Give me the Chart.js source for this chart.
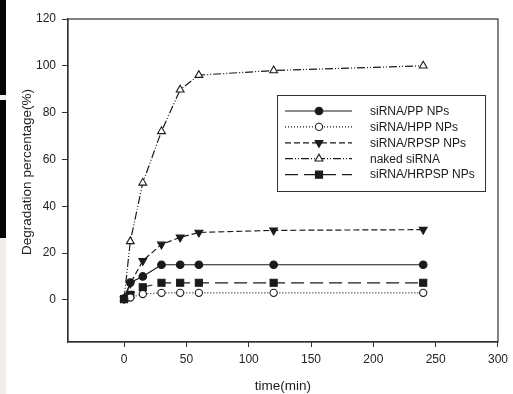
<!DOCTYPE html>
<html>
<head>
<meta charset="utf-8">
<script src="https://cdn.jsdelivr.net/npm/chart.js@4/dist/chart.umd.min.js"></script>
<style>
  html, body { margin: 0; padding: 0; background: #fff; }
  #wrap { position: relative; width: 513px; height: 394px; }
  .strip { position: absolute; left: 0; width: 6px; }
</style>
</head>
<body>
<div id="wrap">
  <canvas id="chart" width="513" height="394"></canvas>
  <div class="strip" style="top:0;height:394px;background:#f1eeeb"></div>
  <div class="strip" style="top:0;height:95px;background:#050505"></div>
  <div class="strip" style="top:100px;height:138px;background:#050505"></div>
</div>
<script>
const times = [0, 5, 15, 30, 45, 60, 120, 240];
const ppNPs = [0.5, 7.4, 10, 15, 15, 15, 15, 15];
const hppNPs = [0.3, 1, 2.5, 3, 3, 3, 3, 3];
const rpspNPs = [0.5, 7, 16.7, 23.7, 26.7, 28.8, 29.7, 30];
const nakedSiRNA = [0.5, 25, 50, 72, 89.8, 96, 98, 100];
const hrpspNPs = [0.3, 2.1, 5.4, 7.3, 7.3, 7.3, 7.3, 7.3];
const xTicks = [0, 50, 100, 150, 200, 250, 300];
const yTicks = [0, 20, 40, 60, 80, 100, 120];
const yTitle = 'Degradation percentage(%)';

const ink = '#1a1a1a';
const axisColor = '#333';
const font = 'Liberation Sans, Arial, sans-serif';

function pts(ys) {
  return times.map((t, i) => ({ x: t, y: ys[i] }));
}

function series(label, ys, style) {
  return Object.assign({
    label: label,
    data: pts(ys),
    borderColor: ink,
    borderWidth: 1.2,
    pointBorderColor: ink,
    pointBorderWidth: 1.1,
    fill: false,
    tension: 0
  }, style);
}

const datasets = [
  series('siRNA/PP NPs', ppNPs, { borderDash: [], pointStyle: 'circle', pointRadius: 3.8, pointBackgroundColor: ink }),
  series('siRNA/HPP NPs', hppNPs, { borderDash: [1, 2], pointStyle: 'circle', pointRadius: 3.6, pointBackgroundColor: '#fff' }),
  series('siRNA/RPSP NPs', rpspNPs, { borderDash: [6, 3], pointStyle: 'triangle', pointRotation: 180, pointRadius: 4.5, pointBackgroundColor: ink }),
  series('naked siRNA', nakedSiRNA, { borderDash: [8, 2, 1, 2, 1, 2], pointStyle: 'triangle', pointRadius: 4.5, pointBackgroundColor: '#fff' }),
  series('siRNA/HRPSP NPs', hrpspNPs, { borderDash: [13, 6], pointStyle: 'rect', pointRadius: 5, pointBackgroundColor: ink })
];

function drawMarker(ctx, ds, x, y) {
  const r = ds.pointRadius;
  ctx.save();
  ctx.setLineDash([]);
  ctx.lineWidth = ds.pointBorderWidth;
  ctx.strokeStyle = ds.pointBorderColor;
  ctx.fillStyle = ds.pointBackgroundColor;
  ctx.beginPath();
  if (ds.pointStyle === 'circle') {
    ctx.arc(x, y, r, 0, Math.PI * 2);
  } else if (ds.pointStyle === 'rect') {
    const s = r * Math.SQRT1_2;
    ctx.rect(x - s, y - s, 2 * s, 2 * s);
  } else {
    const dir = ds.pointRotation === 180 ? -1 : 1;
    const h = r * 0.866;
    ctx.moveTo(x, y - dir * r);
    ctx.lineTo(x + h, y + dir * r / 2);
    ctx.lineTo(x - h, y + dir * r / 2);
    ctx.closePath();
  }
  ctx.fill();
  ctx.stroke();
  ctx.restore();
}

// boxed legend with line + centered marker, the plot frame and the y title
const boxLegend = {
  id: 'boxLegend',
  afterDraw(chart) {
    const ctx = chart.ctx;
    const a = chart.chartArea;
    ctx.save();
    ctx.strokeStyle = axisColor;
    ctx.lineWidth = 1.2;
    ctx.strokeRect(a.left, a.top, a.right - a.left, a.bottom - a.top);

    // y title, sits a little above the axis middle like the original
    ctx.save();
    ctx.translate(27, 172);
    ctx.rotate(-Math.PI / 2);
    ctx.font = '13.5px ' + font;
    ctx.fillStyle = '#222';
    ctx.textAlign = 'center';
    ctx.textBaseline = 'middle';
    ctx.fillText(yTitle, 0, 0);
    ctx.restore();

    const bx = 277, by = 95, bw = 208, bh = 96;
    ctx.lineWidth = 1;
    ctx.strokeRect(bx + 0.5, by + 0.5, bw, bh);
    ctx.font = '12px ' + font;
    ctx.fillStyle = ink;
    ctx.textBaseline = 'middle';
    chart.data.datasets.forEach((ds, i) => {
      const y = by + 16 + i * 15.9;
      ctx.save();
      ctx.strokeStyle = ink;
      ctx.lineWidth = ds.borderWidth;
      ctx.setLineDash(ds.borderDash);
      ctx.beginPath();
      ctx.moveTo(285, y);
      ctx.lineTo(352, y);
      ctx.stroke();
      ctx.restore();
      drawMarker(ctx, ds, 319, y);
      ctx.fillText(ds.label, 370, y + 0.5);
    });
    ctx.restore();
  }
};

new Chart(document.getElementById('chart'), {
  type: 'line',
  data: { datasets: datasets },
  plugins: [boxLegend],
  options: {
    responsive: false,
    animation: false,
    layout: { padding: { top: 19, right: 11, left: 0, bottom: 0 } },
    plugins: {
      legend: { display: false },
      tooltip: { enabled: false }
    },
    scales: {
      x: {
        type: 'linear',
        min: -45,
        max: 300,
        afterBuildTicks: (axis) => { axis.ticks = xTicks.map(v => ({ value: v })); },
        afterFit: (axis) => { axis.height = 52; },
        border: { display: true, color: axisColor, width: 1.2 },
        grid: { drawOnChartArea: false, drawTicks: true, tickLength: 5, color: axisColor },
        ticks: { color: '#222', padding: 5, maxRotation: 0, font: { family: font, size: 12 } },
        title: { display: true, text: 'time(min)', color: '#222', padding: { top: 0, bottom: 0 }, font: { family: font, size: 13.5 } }
      },
      y: {
        type: 'linear',
        min: -18,
        max: 120,
        afterBuildTicks: (axis) => { axis.ticks = yTicks.map(v => ({ value: v })); },
        afterFit: (axis) => { axis.width = 68; },
        border: { display: true, color: axisColor, width: 1.2 },
        grid: { drawOnChartArea: false, drawTicks: true, tickLength: 6, color: axisColor },
        ticks: { color: '#222', padding: 6, font: { family: font, size: 12 } },
        title: { display: false }
      }
    }
  }
});
</script>
</body>
</html>
